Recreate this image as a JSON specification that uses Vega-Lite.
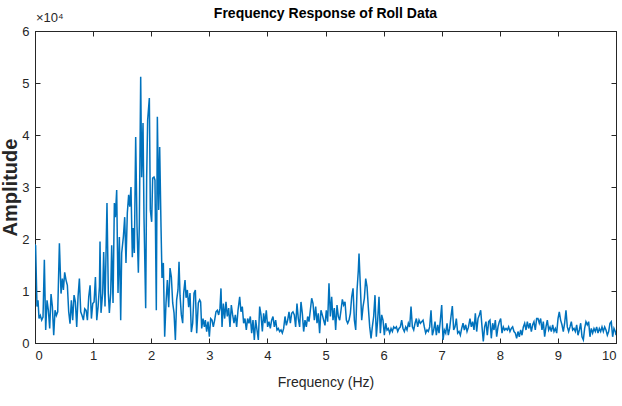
{
"$schema": "https://vega.github.io/schema/vega-lite/v6.json",
"width": 581, "height": 312,
"autosize": "none",
"padding": {"left": 35, "top": 31, "right": 6, "bottom": 63},
"background": "white",
"config": {"view": {"stroke": "#262626", "strokeWidth": 1}, "font": "Liberation Sans"},
"title": {"text": "Frequency Response of Roll Data", "fontSize": 14, "fontWeight": "bold", "font": "Liberation Sans", "color": "#000000", "offset": -9},
"datasets": {
"fft": [
{"f":0.000,"a":19000},{"f":0.011,"a":18700},{"f":0.034,"a":7000},{"f":0.052,"a":8200},{"f":0.069,"a":4700},{"f":0.092,"a":5300},{"f":0.115,"a":4400},{"f":0.138,"a":5000},{"f":0.161,"a":16000},{"f":0.184,"a":2500},{"f":0.207,"a":8200},{"f":0.230,"a":6300},{"f":0.253,"a":2800},{"f":0.276,"a":9400},{"f":0.299,"a":7000},{"f":0.322,"a":1500},{"f":0.345,"a":6300},{"f":0.368,"a":5300},{"f":0.391,"a":6000},{"f":0.420,"a":19200},{"f":0.448,"a":9500},{"f":0.471,"a":12400},{"f":0.489,"a":10200},{"f":0.511,"a":13600},{"f":0.534,"a":12100},{"f":0.557,"a":11100},{"f":0.580,"a":6000},{"f":0.603,"a":3700},{"f":0.626,"a":8200},{"f":0.649,"a":4400},{"f":0.672,"a":9200},{"f":0.695,"a":7900},{"f":0.718,"a":3100},{"f":0.741,"a":8900},{"f":0.764,"a":12400},{"f":0.787,"a":6000},{"f":0.810,"a":5300},{"f":0.833,"a":4400},{"f":0.856,"a":6600},{"f":0.879,"a":6300},{"f":0.902,"a":4400},{"f":0.925,"a":8900},{"f":0.948,"a":11100},{"f":0.971,"a":4700},{"f":0.994,"a":7600},{"f":1.017,"a":7900},{"f":1.040,"a":12700},{"f":1.063,"a":4400},{"f":1.086,"a":7000},{"f":1.109,"a":10800},
{"f":1.119,"a":19500},{"f":1.136,"a":5800},{"f":1.165,"a":9600},{"f":1.182,"a":17500},{"f":1.205,"a":7000},{"f":1.239,"a":26900},{"f":1.262,"a":9600},{"f":1.280,"a":5800},{"f":1.303,"a":9600},{"f":1.320,"a":18800},{"f":1.343,"a":7700},{"f":1.366,"a":26900},{"f":1.383,"a":24200},{"f":1.406,"a":29400},{"f":1.429,"a":9600},{"f":1.452,"a":20400},{"f":1.475,"a":4400},{"f":1.492,"a":17300},{"f":1.521,"a":20400},{"f":1.544,"a":24200},{"f":1.566,"a":15400},{"f":1.589,"a":25000},{"f":1.612,"a":28500},{"f":1.630,"a":26200},{"f":1.652,"a":30000},{"f":1.675,"a":16500},{"f":1.692,"a":22100},{"f":1.710,"a":17300},{"f":1.733,"a":39600},{"f":1.756,"a":22300},{"f":1.779,"a":13500},{"f":1.796,"a":23100},{"f":1.819,"a":51200},{"f":1.836,"a":31900},{"f":1.859,"a":42300},{"f":1.876,"a":24200},{"f":1.905,"a":6700},{"f":1.922,"a":31900},{"f":1.939,"a":42900},{"f":1.968,"a":47100},{"f":1.985,"a":25600},{"f":2.008,"a":23300},{"f":2.025,"a":31700},{"f":2.048,"a":31900},{"f":2.065,"a":31300},{"f":2.088,"a":6300},{"f":2.106,"a":43500},{"f":2.129,"a":25600},{"f":2.146,"a":37700},{"f":2.169,"a":22300},{"f":2.186,"a":12500},{"f":2.209,"a":15400},{"f":2.232,"a":1200},{"f":2.255,"a":7700},{"f":2.278,"a":12100},{"f":2.301,"a":6900},{"f":2.324,"a":14400},{"f":2.347,"a":12700},{"f":2.370,"a":7700},{"f":2.393,"a":5800},{"f":2.416,"a":600},{"f":2.438,"a":8300},{"f":2.461,"a":10200},{"f":2.479,"a":15600},{"f":2.496,"a":9200},{"f":2.519,"a":5400},{"f":2.542,"a":3800},{"f":2.559,"a":9600},{"f":2.582,"a":12100},{"f":2.600,"a":8700},{"f":2.622,"a":10200},{"f":2.645,"a":6900},{"f":2.668,"a":9600},{"f":2.691,"a":2100},{"f":2.714,"a":3800},{"f":2.737,"a":9600},{"f":2.760,"a":10200},{"f":2.783,"a":1900},{"f":2.811,"a":7700},{"f":2.834,"a":8300},
{"f":2.851,"a":7900},{"f":2.869,"a":2800},{"f":2.892,"a":4700},{"f":2.915,"a":3100},{"f":2.932,"a":4400},{"f":2.955,"a":2200},{"f":2.978,"a":4100},{"f":3.001,"a":1200},{"f":3.024,"a":4700},{"f":3.047,"a":4400},{"f":3.069,"a":3100},{"f":3.092,"a":4400},{"f":3.115,"a":6000},{"f":3.138,"a":6300},{"f":3.161,"a":5400},{"f":3.184,"a":6700},{"f":3.201,"a":10500},{"f":3.219,"a":3100},{"f":3.242,"a":7600},{"f":3.265,"a":4700},{"f":3.287,"a":7900},{"f":3.310,"a":5100},{"f":3.333,"a":6700},{"f":3.356,"a":3100},{"f":3.379,"a":7300},{"f":3.402,"a":5400},{"f":3.425,"a":3800},{"f":3.448,"a":5400},{"f":3.471,"a":3100},{"f":3.494,"a":6300},{"f":3.523,"a":8900},{"f":3.545,"a":6000},{"f":3.568,"a":7000},{"f":3.591,"a":3800},{"f":3.614,"a":4700},{"f":3.637,"a":2500},{"f":3.660,"a":4700},{"f":3.683,"a":3800},{"f":3.706,"a":5100},{"f":3.729,"a":1900},{"f":3.752,"a":4400},{"f":3.775,"a":600},{"f":3.798,"a":4400},{"f":3.821,"a":2500},{"f":3.844,"a":600},{"f":3.867,"a":7000},{"f":3.890,"a":5400},{"f":3.913,"a":2200},{"f":3.935,"a":5700},{"f":3.958,"a":3800},{"f":3.981,"a":6300},{"f":4.004,"a":3100},{"f":4.027,"a":4100},{"f":4.050,"a":2800},{"f":4.073,"a":4400},{"f":4.096,"a":5100},{"f":4.119,"a":3100},{"f":4.142,"a":4400},{"f":4.165,"a":2500},{"f":4.188,"a":2800},{"f":4.211,"a":2200},{"f":4.234,"a":2500},{"f":4.257,"a":1900},{"f":4.280,"a":2800},{"f":4.303,"a":5100},{"f":4.326,"a":3400},{"f":4.349,"a":4400},{"f":4.372,"a":6000},{"f":4.395,"a":3800},{"f":4.417,"a":5700},{"f":4.440,"a":6000},{"f":4.463,"a":5400},{"f":4.486,"a":3100},{"f":4.509,"a":7600},{"f":4.532,"a":4700},{"f":4.555,"a":3100},{"f":4.578,"a":7900},{"f":4.601,"a":5700},{"f":4.624,"a":2200},{"f":4.647,"a":4400},{"f":4.670,"a":3100},{"f":4.693,"a":5100},{"f":4.716,"a":4100},{"f":4.739,"a":6300},{"f":4.762,"a":8600},{"f":4.785,"a":7600},{"f":4.808,"a":4400},{"f":4.831,"a":7000},{"f":4.854,"a":3800},{"f":4.876,"a":5700},{"f":4.899,"a":1900},{"f":4.922,"a":6300},{"f":4.945,"a":5400},{"f":4.968,"a":4400},{"f":4.991,"a":3400},{"f":5.014,"a":6300},{"f":5.037,"a":4100},
{"f":5.060,"a":11500},{"f":5.084,"a":5100},{"f":5.106,"a":8900},{"f":5.129,"a":4400},{"f":5.152,"a":6700},{"f":5.175,"a":2500},{"f":5.198,"a":7300},{"f":5.221,"a":5100},{"f":5.244,"a":4400},{"f":5.267,"a":6300},{"f":5.290,"a":8400},{"f":5.313,"a":7300},{"f":5.336,"a":7900},{"f":5.359,"a":4400},{"f":5.382,"a":3800},{"f":5.405,"a":4400},{"f":5.428,"a":5700},{"f":5.451,"a":8900},{"f":5.474,"a":10500},{"f":5.497,"a":4400},{"f":5.520,"a":2500},{"f":5.543,"a":10200},{"f":5.565,"a":14000},{"f":5.577,"a":17200},{"f":5.600,"a":10800},{"f":5.623,"a":4400},{"f":5.646,"a":7000},{"f":5.669,"a":8600},{"f":5.692,"a":12400},{"f":5.715,"a":10800},{"f":5.738,"a":6700},{"f":5.761,"a":3100},{"f":5.784,"a":900},{"f":5.806,"a":3100},{"f":5.829,"a":5100},{"f":5.852,"a":9200},{"f":5.875,"a":1200},{"f":5.898,"a":4400},{"f":5.921,"a":8900},{"f":5.944,"a":1900},{"f":5.967,"a":5400},{"f":5.990,"a":4400},{"f":6.013,"a":1500},{"f":6.036,"a":3800},{"f":6.059,"a":2500},{"f":6.082,"a":2800},{"f":6.105,"a":1900},{"f":6.128,"a":2800},{"f":6.151,"a":2200},{"f":6.174,"a":3100},{"f":6.197,"a":2800},{"f":6.220,"a":3100},{"f":6.243,"a":2200},{"f":6.265,"a":2800},{"f":6.288,"a":3100},{"f":6.311,"a":4400},{"f":6.334,"a":2800},{"f":6.357,"a":2200},{"f":6.380,"a":3100},{"f":6.403,"a":2500},{"f":6.426,"a":3800},{"f":6.449,"a":3100},{"f":6.472,"a":7000},{"f":6.495,"a":3100},{"f":6.518,"a":2500},{"f":6.541,"a":3800},{"f":6.564,"a":4700},{"f":6.587,"a":3100},{"f":6.610,"a":4400},{"f":6.633,"a":3800},{"f":6.656,"a":4100},{"f":6.679,"a":4400},{"f":6.701,"a":3100},{"f":6.724,"a":1900},{"f":6.747,"a":2500},{"f":6.770,"a":2200},{"f":6.793,"a":3100},{"f":6.816,"a":6300},{"f":6.839,"a":1500},{"f":6.862,"a":2500},{"f":6.885,"a":4100},{"f":6.908,"a":1500},{"f":6.931,"a":3500},{"f":6.954,"a":1900},{"f":6.977,"a":4400},{"f":7.000,"a":7300},{"f":7.023,"a":600},{"f":7.046,"a":2500},{"f":7.069,"a":1900},{"f":7.092,"a":3800},{"f":7.114,"a":1500},{"f":7.137,"a":2800},{"f":7.160,"a":5100},{"f":7.183,"a":7100},{"f":7.206,"a":2500},{"f":7.229,"a":3100},{"f":7.252,"a":4700},{"f":7.275,"a":1900},{"f":7.298,"a":2200},{"f":7.321,"a":1500},{"f":7.344,"a":2800},{"f":7.367,"a":3800},{"f":7.390,"a":2500},{"f":7.413,"a":3500},{"f":7.436,"a":2200},{"f":7.459,"a":3000},
{"f":7.487,"a":4700},{"f":7.510,"a":3100},{"f":7.533,"a":4100},{"f":7.556,"a":2500},{"f":7.579,"a":5700},{"f":7.602,"a":2200},{"f":7.625,"a":4700},{"f":7.648,"a":5400},{"f":7.671,"a":6300},{"f":7.694,"a":3100},{"f":7.716,"a":300},{"f":7.739,"a":3100},{"f":7.762,"a":4100},{"f":7.785,"a":1500},{"f":7.808,"a":4100},{"f":7.831,"a":4400},{"f":7.854,"a":900},{"f":7.877,"a":3800},{"f":7.900,"a":2500},{"f":7.923,"a":4400},{"f":7.946,"a":1200},{"f":7.969,"a":3100},{"f":7.992,"a":4100},{"f":8.015,"a":4700},{"f":8.038,"a":1900},{"f":8.061,"a":3100},{"f":8.084,"a":2500},{"f":8.107,"a":2800},{"f":8.130,"a":2500},{"f":8.152,"a":3100},{"f":8.175,"a":2200},{"f":8.198,"a":2800},{"f":8.221,"a":3100},{"f":8.244,"a":2200},{"f":8.267,"a":1900},{"f":8.290,"a":900},{"f":8.313,"a":2200},{"f":8.336,"a":1200},{"f":8.359,"a":2500},{"f":8.382,"a":1500},{"f":8.405,"a":3100},{"f":8.428,"a":3800},{"f":8.451,"a":2500},{"f":8.474,"a":4100},{"f":8.497,"a":2800},{"f":8.520,"a":3800},{"f":8.543,"a":2200},{"f":8.566,"a":3500},{"f":8.588,"a":4100},{"f":8.611,"a":2500},{"f":8.634,"a":4700},{"f":8.657,"a":4700},{"f":8.680,"a":3800},{"f":8.703,"a":4700},{"f":8.726,"a":2500},{"f":8.749,"a":4100},{"f":8.772,"a":1200},{"f":8.795,"a":3100},{"f":8.818,"a":4400},{"f":8.841,"a":2500},{"f":8.864,"a":3100},{"f":8.887,"a":2200},{"f":8.910,"a":3500},{"f":8.933,"a":2200},{"f":8.956,"a":2800},{"f":8.979,"a":1900},{"f":9.002,"a":4700},{"f":9.024,"a":6000},{"f":9.047,"a":4400},{"f":9.070,"a":3500},{"f":9.093,"a":2200},{"f":9.116,"a":3800},{"f":9.139,"a":6300},{"f":9.162,"a":3100},{"f":9.185,"a":2200},{"f":9.208,"a":3100},{"f":9.231,"a":4100},{"f":9.254,"a":2500},{"f":9.277,"a":2800},{"f":9.300,"a":2200},{"f":9.323,"a":3500},{"f":9.346,"a":1500},{"f":9.369,"a":2500},{"f":9.392,"a":3800},{"f":9.415,"a":1200},{"f":9.438,"a":600},{"f":9.460,"a":2800},{"f":9.483,"a":4100},{"f":9.506,"a":3500},{"f":9.529,"a":4100},{"f":9.552,"a":1200},{"f":9.575,"a":2800},{"f":9.598,"a":1900},{"f":9.621,"a":2800},{"f":9.644,"a":2200},{"f":9.667,"a":3100},{"f":9.690,"a":1900},{"f":9.713,"a":2800},{"f":9.736,"a":2200},{"f":9.759,"a":3100},{"f":9.782,"a":2200},{"f":9.805,"a":3100},{"f":9.828,"a":2500},{"f":9.851,"a":1500},{"f":9.874,"a":2200},{"f":9.896,"a":3800},{"f":9.919,"a":4100},{"f":9.942,"a":1200},{"f":9.965,"a":2800},{"f":9.988,"a":2200},{"f":10.000,"a":1500}
],
"note": [{"label": "×10⁴", "f": 0, "a": 60000}]
},
"layer": [
{
"data": {"name": "fft"},
"mark": {"type": "line", "color": "#0072BD", "strokeWidth": 1.5, "clip": true},
"encoding": {
"x": {"field": "f", "type": "quantitative", "scale": {"domain": [0, 10], "nice": false, "zero": false},
"axis": {"values": [0,1,2,3,4,5,6,7,8,9,10], "tickSize": -5, "tickColor": "#262626", "domainColor": "#262626", "grid": false, "labelFont": "Liberation Sans", "labelFontSize": 13, "labelColor": "#262626", "labelPadding": 11, "title": "Frequency (Hz)", "titleFont": "Liberation Sans", "titleFontSize": 14, "titleFontWeight": "normal", "titleColor": "#262626", "titlePadding": 13}},
"y": {"field": "a", "type": "quantitative", "scale": {"domain": [0, 60000], "nice": false},
"axis": {"values": [0,10000,20000,30000,40000,50000,60000], "labelExpr": "datum.value/10000", "tickSize": -5, "tickColor": "#262626", "domainColor": "#262626", "grid": false, "labelFont": "Liberation Sans", "labelFontSize": 13, "labelColor": "#262626", "labelPadding": 11, "title": "Amplitude", "titleFont": "Liberation Sans", "titleFontSize": 20, "titleFontWeight": "bold", "titleColor": "#262626", "titlePadding": 1}}
}
},
{
"data": {"name": "fft"},
"mark": {"type": "line", "opacity": 0},
"encoding": {
"x": {"field": "f", "type": "quantitative", "axis": {"orient": "top", "values": [0,1,2,3,4,5,6,7,8,9,10], "tickSize": -5, "tickColor": "#262626", "domainColor": "#262626", "labels": false, "grid": false, "title": null}},
"y": {"field": "a", "type": "quantitative", "axis": {"orient": "right", "values": [0,10000,20000,30000,40000,50000,60000], "tickSize": -5, "tickColor": "#262626", "domainColor": "#262626", "labels": false, "grid": false, "title": null}}
}
},
{
"data": {"name": "note"},
"mark": {"type": "text", "align": "left", "baseline": "alphabetic", "dx": 1, "dy": -9, "fontSize": 13, "font": "Liberation Sans", "color": "#262626"},
"encoding": {
"x": {"field": "f", "type": "quantitative", "axis": null},
"y": {"field": "a", "type": "quantitative", "axis": null},
"text": {"field": "label"}
}
}
],
"resolve": {"axis": {"x": "independent", "y": "independent"}}
}
